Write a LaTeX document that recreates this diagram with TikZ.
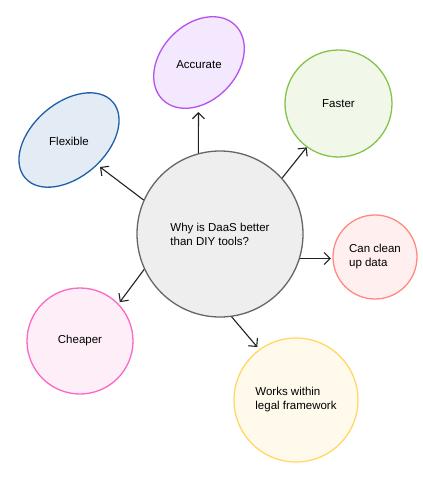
\documentclass[tikz,border=0pt]{standalone}
\usepackage{fontspec}
\setmainfont{Liberation Sans}
\usetikzlibrary{shapes.geometric,arrows.meta}
\definecolor{cfill}{HTML}{EEEEEE}
\definecolor{cdraw}{HTML}{666666}
\definecolor{bfill}{HTML}{E3EBF5}
\definecolor{bdraw}{HTML}{1F5FA8}
\definecolor{pfill}{HTML}{F3E8FD}
\definecolor{pdraw}{HTML}{B650F0}
\definecolor{gfill}{HTML}{F1F8EA}
\definecolor{gdraw}{HTML}{86C34C}
\definecolor{rfill}{HTML}{FFF0EF}
\definecolor{rdraw}{HTML}{FF8A84}
\definecolor{kfill}{HTML}{FDEEF8}
\definecolor{kdraw}{HTML}{FB68C6}
\definecolor{yfill}{HTML}{FFFAEC}
\definecolor{ydraw}{HTML}{FFD966}
\definecolor{arrcol}{HTML}{222222}
\tikzset{
  lbl/.style={font=\fontsize{11.5}{14}\selectfont, align=left, text=black},
  bubble/.style={circle, line width=1.3pt, inner sep=0pt, lbl},
  oval/.style={ellipse, line width=1.3pt, inner sep=0pt},
  arr/.style={draw=arrcol, line width=1.1pt, -{Straight Barb[length=6pt,width=12pt,line width=1.1pt]}}
}
\begin{document}
\begin{tikzpicture}[x=1pt,y=-1pt]
\useasboundingbox[fill=white] (0,0) rectangle (423,488);
\node[bubble, fill=cfill, draw=cdraw, minimum size=166pt] (c) at (220,234) {Why is DaaS better\\than DIY tools?};
\node[oval, fill=bfill, draw=bdraw, minimum width=116pt, minimum height=74pt, rotate=41] (flex) at (69,140) {};
\node[lbl] (flexlbl) at (69,141) {Flexible};
\node[oval, fill=pfill, draw=pdraw, minimum width=104pt, minimum height=76pt, rotate=46] (acc) at (199,62.5) {};
\node[lbl] (acclbl) at (199,65) {Accurate};
\node[bubble, fill=gfill, draw=gdraw, minimum size=107pt] (fast) at (338.5,103.5) {Faster};
\node[bubble, fill=rfill, draw=rdraw, minimum size=84pt] (clean) at (375,257) {Can clean\\up data};
\node[bubble, fill=kfill, draw=kdraw, minimum size=106pt] (cheap) at (80,341) {Cheaper};
\node[bubble, fill=yfill, draw=ydraw, minimum size=124pt] (works) at (296,400) {Works within\\legal framework};
\coordinate (flextip) at (100,167);
\coordinate (acctip) at (198.5,112);
\draw[arr] (c.156) -- (flextip);
\draw[arr] (c.105) -- (acctip);
\draw[arr] (c.42) -- (fast.234);
\draw[arr, shorten >=1.5pt] (c.-17) -- (c.-17 -| clean.west);
\draw[arr, shorten >=2pt] (c.-155) -- (cheap.44);
\draw[arr, shorten >=3pt] (c.-82) -- (works.126);
\end{tikzpicture}
\end{document}
